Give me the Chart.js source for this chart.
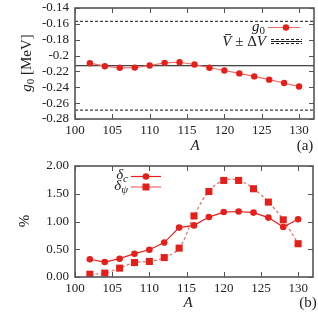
<!DOCTYPE html>
<html>
<head>
<meta charset="utf-8">
<script src="https://cdn.jsdelivr.net/npm/chart.js@4.4.1/dist/chart.umd.min.js"></script>
<style>
  html, body { margin: 0; padding: 0; background: #fff; }
  #wrap { position: relative; width: 318px; height: 314px; }
  canvas { position: absolute; left: 0; }
</style>
</head>
<body>
<div id="wrap">
  <canvas id="chartBot" width="318" height="164" style="top:150px"></canvas>
  <canvas id="chartTop" width="318" height="158" style="top:0"></canvas>
</div>
<script>
// --- Data ---
const massNumbers = [102, 104, 106, 108, 110, 112, 114, 116, 118, 120, 122, 124, 126, 128, 130];
const g0Values = [-0.2096, -0.2134, -0.2154, -0.2152, -0.2125, -0.2092, -0.2084, -0.2113, -0.2154,
                  -0.2188, -0.2225, -0.2263, -0.2304, -0.2346, -0.2391];
const vMean = -0.2128;
const vDelta = 0.056;
const deltaC = [0.32, 0.27, 0.33, 0.42, 0.49, 0.62, 0.89, 0.93, 1.08, 1.17, 1.18, 1.16, 1.07, 0.90, 1.04];
const deltaPsi = [0.05, 0.07, 0.16, 0.26, 0.28, 0.35, 0.52, 1.10, 1.54, 1.74, 1.74, 1.59, 1.35, 1.03, 0.60];
const xTicks = [100, 105, 110, 115, 120, 125, 130];
const topYTicks = [-0.28, -0.26, -0.24, -0.22, -0.20, -0.18, -0.16, -0.14];
const botYTicks = [0.00, 0.50, 1.00, 1.50, 2.00];
const X_MIN = 100, X_MAX = 132;

// --- Styles ---
const RED = '#e5201b';
const RED_LIGHT = '#f26a66';
const FRAME = '#555';
const SERIF = '"Liberation Serif", "DejaVu Serif", serif';

const pts = (ys) => massNumbers.map((x, i) => ({ x: x, y: ys[i] }));
const hline = (y) => [{ x: X_MIN, y: y }, { x: X_MAX, y: y }];

// draw text made of segments (italic / subscript), aligned 'left' | 'right' | 'center'
function richText(ctx, segs, x, y, align, size) {
    size = size || 15;
    const fontOf = (s) => `${s.it ? 'italic ' : ''}${s.sub ? Math.round(size * 0.72) : size}px ${SERIF}`;
    let total = 0;
    segs.forEach(s => { ctx.font = fontOf(s); total += ctx.measureText(s.t).width; });
    let cx = align === 'right' ? x - total : align === 'center' ? x - total / 2 : x;
    ctx.textBaseline = 'middle';
    ctx.textAlign = 'left';
    segs.forEach(s => {
        ctx.font = fontOf(s);
        const w = ctx.measureText(s.t).width;
        ctx.fillText(s.t, cx, y + (s.sub ? size * 0.3 : 0));
        if (s.bar) {
            ctx.save();
            ctx.lineWidth = 0.9;
            ctx.beginPath();
            ctx.moveTo(cx + w * 0.3, y - size * 0.5);
            ctx.lineTo(cx + w * 0.95, y - size * 0.5);
            ctx.stroke();
            ctx.restore();
        }
        cx += w;
    });
}

// frame with inward ticks on all four sides
const framePlugin = {
    id: 'frame',
    afterDatasetsDraw(chart) {
        const { ctx, chartArea: a, scales } = chart;
        ctx.save();
        ctx.strokeStyle = FRAME;
        ctx.lineWidth = 1;
        ctx.beginPath();
        scales.x.ticks.forEach(t => {
            const px = Math.round(scales.x.getPixelForValue(t.value)) + 0.5;
            ctx.moveTo(px, a.bottom); ctx.lineTo(px, a.bottom - 5);
            ctx.moveTo(px, a.top); ctx.lineTo(px, a.top + 5);
        });
        scales.y.ticks.forEach(t => {
            const py = Math.round(scales.y.getPixelForValue(t.value)) + 0.5;
            ctx.moveTo(a.left, py); ctx.lineTo(a.left + 5, py);
            ctx.moveTo(a.right, py); ctx.lineTo(a.right - 5, py);
        });
        ctx.stroke();
        ctx.lineWidth = 1.6;
        ctx.strokeRect(a.left, a.top, a.right - a.left, a.bottom - a.top);
        ctx.restore();
    }
};

function axisOptions(yTicks, yFmt, xHeight) {
    return {
        x: {
            type: 'linear', min: X_MIN, max: X_MAX,
            afterBuildTicks: s => { s.ticks = xTicks.map(v => ({ value: v })); },
            afterFit: s => { s.height = xHeight; s.paddingLeft = 0; s.paddingRight = 0; },
            grid: { display: false, drawTicks: false },
            border: { display: false },
            ticks: { color: '#222', padding: 5, autoSkip: false, maxRotation: 0, font: { family: SERIF, size: 13, lineHeight: 1 } }
        },
        y: {
            type: 'linear', min: yTicks[0], max: yTicks[yTicks.length - 1],
            afterBuildTicks: s => { s.ticks = yTicks.map(v => ({ value: v })); },
            afterFit: s => { s.width = 75; s.paddingTop = 0; s.paddingBottom = 0; },
            grid: { display: false, drawTicks: false },
            border: { display: false },
            ticks: { color: '#222', padding: 6, autoSkip: false, callback: yFmt, font: { family: SERIF, size: 13, lineHeight: 1 } }
        }
    };
}

// --- Top panel (a) ---
const topDeco = {
    id: 'topDeco',
    afterDraw(chart) {
        const ctx = chart.ctx;
        ctx.save();
        ctx.fillStyle = '#222';
        ctx.strokeStyle = '#222';
        // y title
        ctx.save();
        ctx.translate(27, 63);
        ctx.rotate(-Math.PI / 2);
        richText(ctx, [{ t: 'g', it: true }, { t: '0', sub: true }, { t: ' [MeV]' }], 0, 0, 'center');
        ctx.restore();
        richText(ctx, [{ t: 'A', it: true }], 195, 146, 'center');
        richText(ctx, [{ t: '(a)' }], 305, 146, 'center');
        // legend
        richText(ctx, [{ t: 'g', it: true }, { t: '0', sub: true }], 265, 27, 'right');
        ctx.strokeStyle = RED_LIGHT; ctx.lineWidth = 1;
        ctx.beginPath(); ctx.moveTo(268, 27.5); ctx.lineTo(300, 27.5); ctx.stroke();
        ctx.fillStyle = RED;
        ctx.beginPath(); ctx.arc(286, 27.5, 3.2, 0, Math.PI * 2); ctx.fill();
        ctx.fillStyle = '#222'; ctx.strokeStyle = '#222';
        richText(ctx, [{ t: 'V', it: true, bar: true }, { t: ' ± Δ' }, { t: 'V', it: true }], 266, 42, 'right');
        ctx.lineWidth = 1;
        ctx.beginPath(); ctx.moveTo(271, 41.5); ctx.lineTo(302, 41.5); ctx.stroke();
        ctx.setLineDash([3, 2]);
        ctx.beginPath();
        ctx.moveTo(271, 39.5); ctx.lineTo(302, 39.5);
        ctx.moveTo(271, 43.5); ctx.lineTo(302, 43.5);
        ctx.stroke();
        ctx.restore();
    }
};

new Chart(document.getElementById('chartTop'), {
    type: 'line',
    data: {
        datasets: [
            {
                data: pts(g0Values), borderColor: RED_LIGHT, borderWidth: 1.2,
                pointRadius: 3.2, pointBackgroundColor: RED, pointBorderColor: RED, pointBorderWidth: 0,
                tension: 0, order: 0
            },
            { data: hline(vMean), borderColor: '#111', borderWidth: 1, pointRadius: 0, order: 1 },
            { data: hline(vMean + vDelta), borderColor: '#111', borderWidth: 1, borderDash: [3, 2], pointRadius: 0, order: 1 },
            { data: hline(vMean - vDelta), borderColor: '#111', borderWidth: 1, borderDash: [3, 2], pointRadius: 0, order: 1 }
        ]
    },
    options: {
        responsive: false,
        animation: false,
        layout: { padding: { top: 8, right: 4, left: 0, bottom: 0 } },
        plugins: { legend: { display: false }, tooltip: { enabled: false } },
        scales: axisOptions(topYTicks, v => String(parseFloat(v.toFixed(2))), 39)
    },
    plugins: [framePlugin, topDeco]
});

// --- Bottom panel (b) ---
const botDeco = {
    id: 'botDeco',
    afterDraw(chart) {
        const ctx = chart.ctx;
        ctx.save();
        ctx.fillStyle = '#222';
        ctx.save();
        ctx.translate(25, 71);
        ctx.rotate(-Math.PI / 2);
        richText(ctx, [{ t: '%' }], 0, 0, 'center');
        ctx.restore();
        richText(ctx, [{ t: 'A', it: true }], 188, 153, 'center');
        richText(ctx, [{ t: '(b)' }], 308, 153, 'center');
        // legend
        richText(ctx, [{ t: 'δ', it: true }, { t: 'c', it: true, sub: true }], 128, 25, 'right');
        richText(ctx, [{ t: 'δ', it: true }, { t: 'ψ', it: true, sub: true }], 128, 36, 'right');
        ctx.lineWidth = 1.2;
        ctx.strokeStyle = RED;
        ctx.beginPath(); ctx.moveTo(131, 26.5); ctx.lineTo(161, 26.5); ctx.stroke();
        ctx.fillStyle = RED;
        ctx.beginPath(); ctx.arc(146, 26.5, 3.3, 0, Math.PI * 2); ctx.fill();
        ctx.strokeStyle = RED_LIGHT;
        ctx.beginPath(); ctx.moveTo(131, 37); ctx.lineTo(161, 37); ctx.stroke();
        ctx.fillRect(142.5, 33.5, 7, 7);
        ctx.restore();
    }
};

new Chart(document.getElementById('chartBot'), {
    type: 'line',
    data: {
        datasets: [
            {
                data: pts(deltaC), borderColor: RED, borderWidth: 1.2,
                pointRadius: 3.3, pointBackgroundColor: RED, pointBorderColor: RED, pointBorderWidth: 0,
                tension: 0
            },
            {
                data: pts(deltaPsi), borderColor: RED_LIGHT, borderWidth: 1.2, borderDash: [3, 2.5],
                pointStyle: 'rect', pointRadius: 5, pointBackgroundColor: RED, pointBorderColor: RED, pointBorderWidth: 0,
                tension: 0.4
            }
        ]
    },
    options: {
        responsive: false,
        animation: false,
        layout: { padding: { top: 16, right: 4, left: 0, bottom: 0 } },
        plugins: { legend: { display: false }, tooltip: { enabled: false } },
        scales: axisOptions(botYTicks, v => v.toFixed(2), 37)
    },
    plugins: [framePlugin, botDeco]
});
</script>
</body>
</html>
